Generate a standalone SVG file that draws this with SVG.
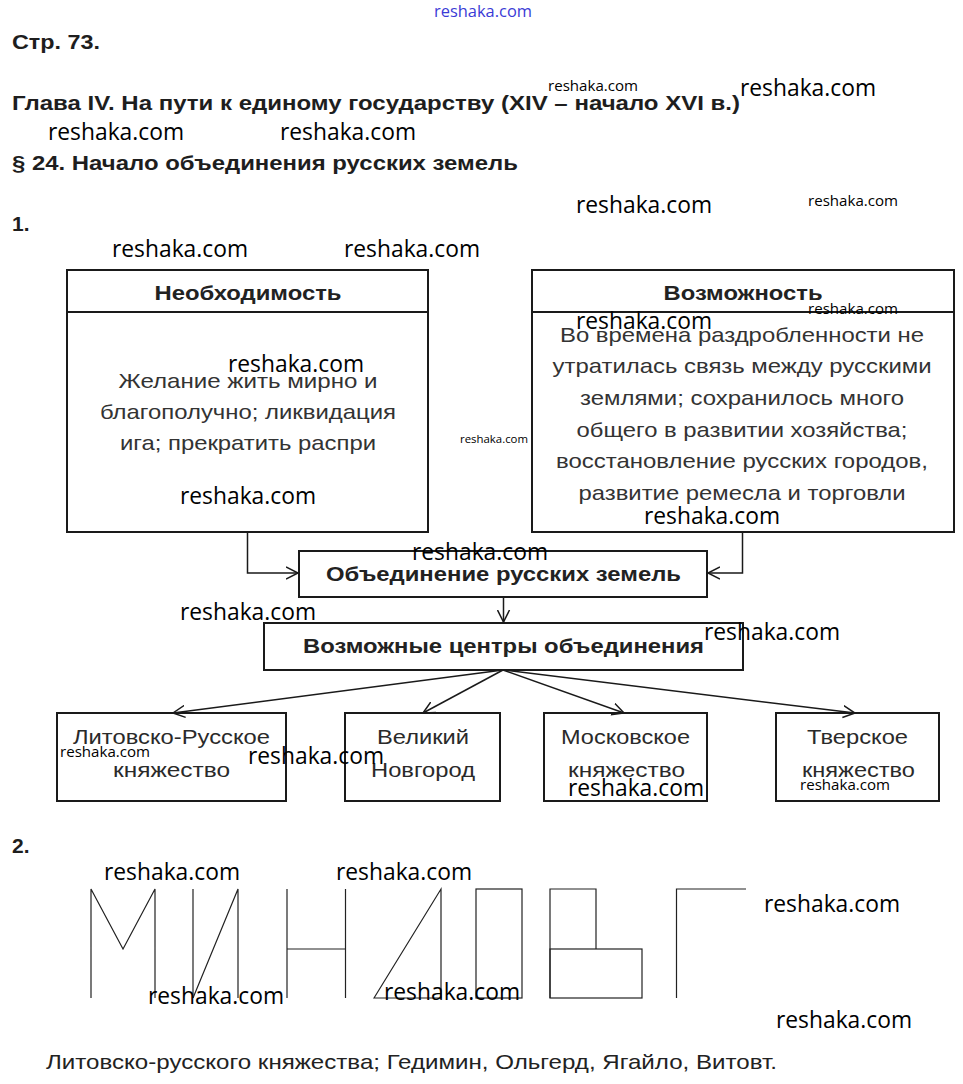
<svg xmlns="http://www.w3.org/2000/svg" width="963" height="1084" viewBox="0 0 963 1084">
<style>
.h{font-family:"Liberation Sans",Arial,sans-serif;font-weight:bold;font-size:21px;fill:#1e1e1e}
.hb{font-family:"Liberation Sans",Arial,sans-serif;font-weight:bold;font-size:20px;fill:#222;text-anchor:middle}
.b{font-family:"Liberation Sans",Arial,sans-serif;font-size:21px;fill:#333;text-anchor:middle}
.l{font-family:"Liberation Sans",Arial,sans-serif;font-size:21px;fill:#2a2a2a;text-anchor:middle}
.t{font-family:"Liberation Sans",Arial,sans-serif;font-size:21px;fill:#222}
.box{fill:none;stroke:#1a1a1a;stroke-width:2}
.c{fill:none;stroke:#1a1a1a;stroke-width:1.5}
.g{fill:none;stroke:#222;stroke-width:1.2}
.w{font-family:"Open Sans","Noto Sans",sans-serif;font-size:23px;fill:#000}
.ws{font-family:"Open Sans","Noto Sans",sans-serif;font-size:15px;fill:#000}
</style>
<defs>
<marker id="ar" markerUnits="userSpaceOnUse" markerWidth="14" markerHeight="14" refX="12" refY="6" orient="auto" viewBox="0 0 14 12">
<path d="M0,0 L12,6 L0,12" fill="none" stroke="#1a1a1a" stroke-width="1.5"/>
</marker>
</defs>
<rect width="963" height="1084" fill="#fff"/>

<g id="header">
<text class="h" x="12" y="49" textLength="88" lengthAdjust="spacingAndGlyphs">Стр. 73.</text>
<text class="h" x="12" y="110" textLength="728" lengthAdjust="spacingAndGlyphs">Глава IV. На пути к единому государству (XIV – начало XVI в.)</text>
<text class="h" x="12" y="170" textLength="506" lengthAdjust="spacingAndGlyphs">§ 24. Начало объединения русских земель</text>
<text class="h" x="12" y="231">1.</text>
<text class="h" x="12" y="853">2.</text>
</g>

<g id="node-neobhodimost">
<rect class="box" x="67" y="270" width="361" height="262"/>
<line class="box" x1="67" y1="312" x2="428" y2="312"/>
<text class="hb" x="248" y="300" textLength="187" lengthAdjust="spacingAndGlyphs">Необходимость</text>
<text class="b" x="248" y="388" textLength="259" lengthAdjust="spacingAndGlyphs">Желание жить мирно и</text>
<text class="b" x="248" y="419" textLength="296" lengthAdjust="spacingAndGlyphs">благополучно; ликвидация</text>
<text class="b" x="248" y="450" textLength="256" lengthAdjust="spacingAndGlyphs">ига; прекратить распри</text>
</g>

<g id="node-vozmozhnost">
<rect class="box" x="532" y="270" width="422" height="262"/>
<line class="box" x1="532" y1="312" x2="954" y2="312"/>
<text class="hb" x="743" y="300" textLength="159" lengthAdjust="spacingAndGlyphs">Возможность</text>
<text class="b" x="742" y="342" textLength="364" lengthAdjust="spacingAndGlyphs">Во времена раздробленности не</text>
<text class="b" x="742" y="373" textLength="379" lengthAdjust="spacingAndGlyphs">утратилась связь между русскими</text>
<text class="b" x="742" y="405" textLength="324" lengthAdjust="spacingAndGlyphs">землями; сохранилось много</text>
<text class="b" x="742" y="437" textLength="331" lengthAdjust="spacingAndGlyphs">общего в развитии хозяйства;</text>
<text class="b" x="742" y="468" textLength="372" lengthAdjust="spacingAndGlyphs">восстановление русских городов,</text>
<text class="b" x="742" y="500" textLength="327" lengthAdjust="spacingAndGlyphs">развитие ремесла и торговли</text>
</g>

<g id="node-obedinenie">
<rect class="box" x="299" y="551" width="408" height="46"/>
<text class="hb" x="503.5" y="581" textLength="355" lengthAdjust="spacingAndGlyphs">Объединение русских земель</text>
</g>

<g id="node-centry">
<rect class="box" x="264" y="623" width="479" height="47"/>
<text class="hb" x="503.5" y="653" textLength="401" lengthAdjust="spacingAndGlyphs">Возможные центры объединения</text>
</g>

<g id="node-litva">
<rect class="box" x="57" y="713" width="229" height="88"/>
<text class="l" x="171.5" y="744" textLength="197" lengthAdjust="spacingAndGlyphs">Литовско-Русское</text>
<text class="l" x="171.5" y="777" textLength="117" lengthAdjust="spacingAndGlyphs">княжество</text>
</g>

<g id="node-novgorod">
<rect class="box" x="345" y="713" width="155" height="88"/>
<text class="l" x="423" y="744" textLength="92" lengthAdjust="spacingAndGlyphs">Великий</text>
<text class="l" x="423" y="777" textLength="104" lengthAdjust="spacingAndGlyphs">Новгород</text>
</g>

<g id="node-moskva">
<rect class="box" x="544" y="713" width="163" height="88"/>
<text class="l" x="625.5" y="744" textLength="129" lengthAdjust="spacingAndGlyphs">Московское</text>
<text class="l" x="626.5" y="777" textLength="117" lengthAdjust="spacingAndGlyphs">княжество</text>
</g>

<g id="node-tver">
<rect class="box" x="776" y="713" width="163" height="88"/>
<text class="l" x="857.5" y="744" textLength="101" lengthAdjust="spacingAndGlyphs">Тверское</text>
<text class="l" x="858.5" y="777" textLength="113" lengthAdjust="spacingAndGlyphs">княжество</text>
</g>

<g id="connectors">
<polyline class="c" points="247.5,532 247.5,573 298,573" marker-end="url(#ar)"/>
<polyline class="c" points="742.5,532 742.5,573 708,573" marker-end="url(#ar)"/>
<line class="c" x1="503.5" y1="597" x2="503.5" y2="622" marker-end="url(#ar)"/>
<line class="c" x1="503" y1="670" x2="173" y2="713" marker-end="url(#ar)"/>
<line class="c" x1="503" y1="670" x2="423" y2="713" marker-end="url(#ar)"/>
<line class="c" x1="503" y1="670" x2="624" y2="713" marker-end="url(#ar)"/>
<line class="c" x1="503" y1="670" x2="855" y2="713" marker-end="url(#ar)"/>
</g>

<g id="letters">
<polyline class="g" points="91,998 91,889 123,949 155,889 155,998"/>
<line class="g" x1="193" y1="889" x2="193" y2="998"/>
<polyline class="g" points="193,998 238,889 238,998"/>
<line class="g" x1="287" y1="889" x2="287" y2="998"/>
<line class="g" x1="345.5" y1="889" x2="345.5" y2="998"/>
<line class="g" x1="287" y1="949" x2="345.5" y2="949"/>
<polygon class="g" points="374,998 441,889 441,998"/>
<rect class="g" x="476" y="889" width="46" height="109"/>
<polyline class="g" points="550,998 550,889 596,889 596,949"/>
<rect class="g" x="550" y="949" width="92" height="49"/>
<polyline class="g" points="676.5,998 676.5,889 746,889"/>
</g>

<g id="answer">
<text class="t" x="46" y="1069" textLength="731" lengthAdjust="spacingAndGlyphs">Литовско-русского княжества; Гедимин, Ольгерд, Ягайло, Витовт.</text>
</g>

<g id="watermarks">
<text x="434" y="17" font-family="'Open Sans','Noto Sans',sans-serif" font-size="16" fill="#3b3bd6" textLength="98" lengthAdjust="spacingAndGlyphs">reshaka.com</text>
<text class="ws" x="548" y="91" textLength="90" lengthAdjust="spacingAndGlyphs">reshaka.com</text>
<text class="w" x="740" y="96" textLength="136" lengthAdjust="spacingAndGlyphs">reshaka.com</text>
<text class="w" x="48" y="140" textLength="136" lengthAdjust="spacingAndGlyphs">reshaka.com</text>
<text class="w" x="280" y="140" textLength="136" lengthAdjust="spacingAndGlyphs">reshaka.com</text>
<text class="w" x="576" y="213" textLength="136" lengthAdjust="spacingAndGlyphs">reshaka.com</text>
<text class="ws" x="808" y="206" textLength="90" lengthAdjust="spacingAndGlyphs">reshaka.com</text>
<text class="w" x="112" y="257" textLength="136" lengthAdjust="spacingAndGlyphs">reshaka.com</text>
<text class="w" x="344" y="257" textLength="136" lengthAdjust="spacingAndGlyphs">reshaka.com</text>
<text class="ws" x="808" y="314" textLength="90" lengthAdjust="spacingAndGlyphs">reshaka.com</text>
<text class="w" x="576" y="329" textLength="136" lengthAdjust="spacingAndGlyphs">reshaka.com</text>
<text class="w" x="228" y="372" textLength="136" lengthAdjust="spacingAndGlyphs">reshaka.com</text>
<text x="460" y="443" font-family="'Open Sans','Noto Sans',sans-serif" font-size="11" fill="#000" textLength="68" lengthAdjust="spacingAndGlyphs">reshaka.com</text>
<text class="w" x="180" y="504" textLength="136" lengthAdjust="spacingAndGlyphs">reshaka.com</text>
<text class="w" x="644" y="524" textLength="136" lengthAdjust="spacingAndGlyphs">reshaka.com</text>
<text class="w" x="412" y="560" textLength="136" lengthAdjust="spacingAndGlyphs">reshaka.com</text>
<text class="w" x="180" y="620" textLength="136" lengthAdjust="spacingAndGlyphs">reshaka.com</text>
<text class="w" x="704" y="640" textLength="136" lengthAdjust="spacingAndGlyphs">reshaka.com</text>
<text class="ws" x="60" y="757" textLength="90" lengthAdjust="spacingAndGlyphs">reshaka.com</text>
<text class="w" x="248" y="764" textLength="136" lengthAdjust="spacingAndGlyphs">reshaka.com</text>
<text class="w" x="568" y="796" textLength="136" lengthAdjust="spacingAndGlyphs">reshaka.com</text>
<text class="ws" x="800" y="790" textLength="90" lengthAdjust="spacingAndGlyphs">reshaka.com</text>
<text class="w" x="104" y="880" textLength="136" lengthAdjust="spacingAndGlyphs">reshaka.com</text>
<text class="w" x="336" y="880" textLength="136" lengthAdjust="spacingAndGlyphs">reshaka.com</text>
<text class="w" x="764" y="912" textLength="136" lengthAdjust="spacingAndGlyphs">reshaka.com</text>
<text class="w" x="148" y="1004" textLength="136" lengthAdjust="spacingAndGlyphs">reshaka.com</text>
<text class="w" x="384" y="1000" textLength="136" lengthAdjust="spacingAndGlyphs">reshaka.com</text>
<text class="w" x="776" y="1028" textLength="136" lengthAdjust="spacingAndGlyphs">reshaka.com</text>
</g>
</svg>
